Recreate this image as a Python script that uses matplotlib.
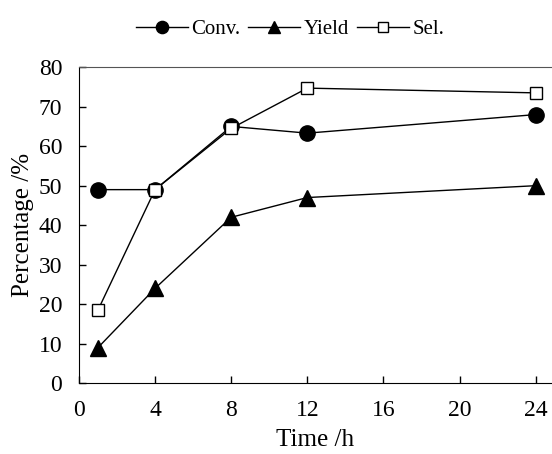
import numpy as np
import matplotlib.pyplot as plt

plt.rcParams['font.family'] = ['Liberation Serif', 'DejaVu Serif']

# dados
time_h = [1, 4, 8, 12, 24]
conv = [49, 49, 65, 63.3, 68]
yield_ = [9, 24, 42, 47, 50]
sel = [18.5, 49, 64.5, 74.7, 73.5]
xticks = [0, 4, 8, 12, 16, 20, 24]
yticks = [0, 10, 20, 30, 40, 50, 60, 70, 80]

fig = plt.figure(figsize=(5.52, 4.54), dpi=100)
ax = fig.add_axes([0.143, 0.156, 0.855, 0.696])

ax.plot(time_h, conv, 'k-', lw=1, marker='o', ms=11, mfc='k', label='Conv.', zorder=3)
ax.plot(time_h, yield_, 'k-', lw=1, marker='^', ms=11, mfc='k', label='Yield', zorder=3)
ax.plot(time_h, sel, 'k-', lw=1, marker='s', ms=9, mfc='white', mew=1, label='Sel.', zorder=4)

ax.set_xlim(0, 24.8)
ax.set_ylim(0, 80)
ax.set_xticks(xticks)
ax.set_yticks(yticks)
ax.tick_params(direction='in', labelsize=17, length=5, width=1)
ax.tick_params(axis='x', pad=12)
ax.tick_params(axis='y', pad=12)
ax.spines['right'].set_visible(False)
ax.spines['top'].set_color('#555555')
ax.set_xlabel('Time /h', fontsize=18, labelpad=6)
ax.set_ylabel('Percentage /%', fontsize=18, labelpad=3)

leg = ax.legend(loc='center', bbox_to_anchor=(0.447, 1.12), ncol=3, frameon=False,
                prop={'family': 'Liberation Serif', 'size': 15},
                handlelength=2.5, handletextpad=0.15, columnspacing=0.4,
                borderaxespad=0, markerscale=0.8)

plt.savefig('out.png', dpi=100)
